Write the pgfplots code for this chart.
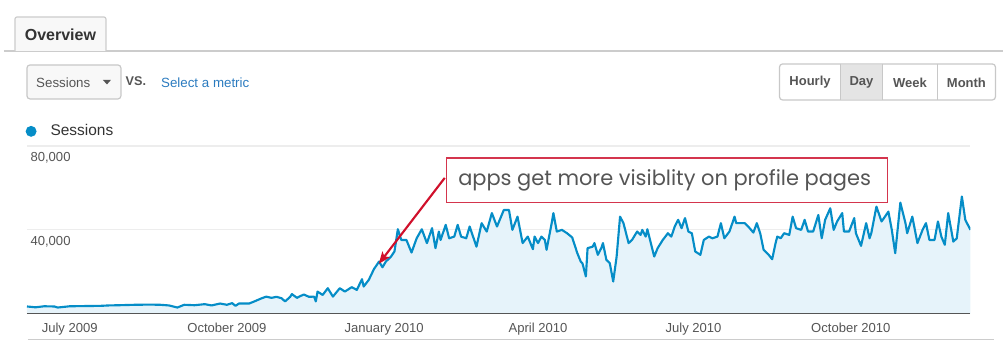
\documentclass[border=0pt]{standalone}
\usepackage{pgfplots}
\usepackage{pgfplotstable}
\pgfplotsset{compat=1.18}
\usepackage{fontspec}
\setmainfont{Liberation Sans}
\newfontfamily\annotfont{Poppins}
\usetikzlibrary{arrows.meta}
\definecolor{gablue}{HTML}{058DC7}
\definecolor{gafill}{HTML}{E6F3FA}
\definecolor{textdark}{HTML}{333333}
\definecolor{labgray}{HTML}{555555}
\definecolor{linegray}{HTML}{CCCCCC}
\definecolor{gridgray}{HTML}{EDEDED}
\definecolor{axisgray}{HTML}{555555}
\definecolor{tabfill}{HTML}{F8F8F8}
\definecolor{btnborder}{HTML}{C8C8C8}
\definecolor{dayfill}{HTML}{E4E4E4}
\definecolor{linkblue}{HTML}{2B7BBF}
\definecolor{annred}{HTML}{D0102B}
\definecolor{annborder}{HTML}{D4354D}
\definecolor{annotgray}{HTML}{555555}

% day (0 = 1 July 2009)  sessions
\pgfplotstableread{
day sessions
-25 3500
-20 3100
-15 3600
-9 3500
-7 3000
0 3600
9 3700
18 3800
23 4000
29 4100
38 4300
47 4400
53 4300
58 4000
63 3000
67 4300
73 4100
79 4600
83 4000
88 4900
92 4300
95 5100
97 3800
99 4900
105 4900
108 5900
112 7300
115 8200
118 7600
121 8100
124 7400
126 5900
129 8100
130 9400
133 7600
134 8100
137 9200
140 8100
143 8200
144 5900
145 10600
148 9000
151 12200
154 8200
158 12200
161 10600
165 12700
168 11400
171 16500
172 13000
175 16200
178 21300
181 24900
183 22200
185 24900
188 27300
190 29700
192 40300
194 35200
197 35200
200 29200
203 36000
206 40300
209 33700
212 40800
214 31300
216 39200
217 35200
220 42400
222 36000
225 36800
227 42400
229 36800
232 36000
234 41600
238 32000
241 43200
244 39200
247 48000
250 41600
254 49500
257 49500
259 40000
262 46300
265 33700
268 36800
271 30800
272 36800
274 33700
276 36800
278 35200
279 30500
282 43200
283 48000
285 39200
288 40000
291 38400
294 36400
297 28900
299 24900
300 24100
302 17800
303 31300
306 32000
307 33700
309 28100
311 31300
312 33700
314 25700
316 24100
318 15400
320 27300
322 46300
324 43200
327 33700
329 35200
332 39200
334 37600
335 40000
337 36800
338 40300
340 33700
342 27300
344 31300
347 35200
350 38400
352 36800
354 41600
356 44800
358 40800
360 45600
362 39200
364 38400
366 29700
369 28100
371 35200
374 36800
376 36000
379 36800
381 43200
383 36000
386 39200
389 46300
390 43200
393 43200
395 43200
397 41600
400 38700
402 43200
404 38400
406 30500
409 28100
411 26000
413 33700
414 36800
416 36000
418 38400
421 37600
423 46300
425 40800
428 40000
430 44800
432 39200
435 39200
438 47100
440 36000
442 44800
445 50300
447 40000
449 44000
452 48000
453 39200
456 39200
459 45600
460 38400
463 32400
466 43200
468 36000
469 38400
472 51100
475 44000
477 46300
479 48700
481 40000
483 28900
486 53000
489 43200
490 38400
493 46300
496 33700
499 40000
501 43200
503 35200
506 35200
508 44000
510 36800
512 32900
514 48000
517 34400
519 36000
522 55900
524 44800
527 40000
}\sessions

\begin{document}
\begin{tikzpicture}
\begin{scope}[x=0.75pt,y=-0.75pt]
\path[use as bounding box] (0,0) rectangle (1004,362);
\end{scope}
\begin{axis}[
  at={(20.25pt,-235.5pt)}, anchor=south west,
  scale only axis, width=708pt, height=126pt,
  xmin=-25, xmax=527, ymin=0, ymax=80000,
  scaled y ticks=false, scaled x ticks=false,
  axis line style={draw=none}, tick style={draw=none},
  xtick={0,92,184,274,365,457},
  xticklabels={July 2009,October 2009,January 2010,April 2010,July 2010,October 2010},
  xticklabel style={font=\fontsize{9.8}{11}\selectfont, text=labgray, yshift=-3.5pt},
  ytick={40000,80000},
  yticklabels={{40,000},{80,000}},
  yticklabel style={anchor=north west, font=\fontsize{9.8}{11}\selectfont, text=labgray, inner sep=2.5pt, yshift=-2.2pt},
  ymajorgrids, grid style={color=gridgray, line width=0.9pt},
  legend style={at={(0,1)}, anchor=south west, draw=none, fill=none, inner sep=0pt, outer sep=0pt,
    font=\fontsize{11.6}{13}\selectfont, text=textdark, yshift=6pt, xshift=-1pt,
    nodes={inner sep=0pt},
    /tikz/every odd column/.append style={column sep=10.5pt}},
  legend image code/.code={\fill[gablue, draw=none] (0pt,0pt) circle (4.1pt);},
]
\addplot[fill=gafill, draw=none, forget plot] table[x=day, y=sessions] {\sessions} \closedcycle;
\addplot[gablue, line width=1.6pt, line join=round] table[x=day, y=sessions] {\sessions};
\addlegendentry{Sessions}
\draw[axisgray, line width=1.5pt] (axis cs:-25,0) -- (axis cs:527,0);
\end{axis}
\begin{scope}[x=0.75pt,y=-0.75pt]
% header
\draw[linegray, line width=0.9pt] (4,51) -- (1004,51);
\draw[linegray, fill=tabfill, line width=0.9pt, rounded corners=1.5pt] (15,51) -- (15,17) -- (106,17) -- (106,51);
\node[inner sep=0pt, font=\fontsize{12}{14}\selectfont\bfseries, text=textdark] at (60.5,35) {Overview};
% dropdown
\draw[btnborder, fill=tabfill, line width=0.9pt, rounded corners=2.25pt] (27,65) rectangle (121,99);
\node[inner sep=0pt, anchor=west, font=\fontsize{10}{12}\selectfont, text=labgray] at (36,82.5) {Sessions};
\fill[labgray] (103,80) -- (111,80) -- (107,84.5) -- cycle;
\node[inner sep=0pt, anchor=west, font=\fontsize{9.5}{12}\selectfont\bfseries, text=labgray] at (125.5,81) {VS.};
\node[inner sep=0pt, anchor=west, font=\fontsize{10}{12}\selectfont, text=linkblue] at (161,82.5) {Select a metric};
% buttons
\draw[btnborder, fill=white, line width=0.9pt, rounded corners=2.25pt] (780,64) rectangle (996,100);
\fill[dayfill] (841,64.6) rectangle (883,99.4);
\draw[btnborder, line width=0.9pt] (841,64) -- (841,100) (883,64) -- (883,100) (938,64) -- (938,100);
\node[inner sep=0pt, font=\fontsize{9.75}{12}\selectfont\bfseries, text=labgray] at (810.5,82.5) {Hourly};
\node[inner sep=0pt, font=\fontsize{9.75}{12}\selectfont\bfseries, text=labgray] at (862,82.5) {Day};
\node[inner sep=0pt, font=\fontsize{9.75}{12}\selectfont\bfseries, text=labgray] at (910.5,82.5) {Week};
\node[inner sep=0pt, font=\fontsize{9.75}{12}\selectfont\bfseries, text=labgray] at (967,82.5) {Month};
% bottom rule
\draw[linegray, line width=0.9pt] (28,340) -- (995,340);
% annotation
\draw[annborder, line width=0.9pt, fill=white] (447,158) rectangle (888,203);
\node[inner sep=0pt, font=\annotfont\fontsize{15.7}{19}\selectfont, text=annotgray] at (665,180.5) {apps get more visiblity on profile pages};
\draw[annred, line width=1.6pt, -{Stealth[length=9pt, width=7pt, inset=2pt]}] (445,178) -- (379,264);
\end{scope}
\end{tikzpicture}
\end{document}
